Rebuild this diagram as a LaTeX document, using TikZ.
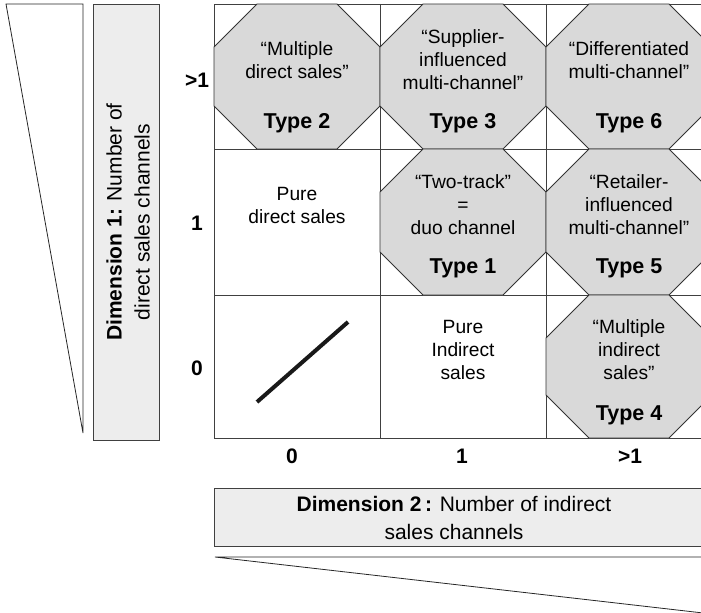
\documentclass[tikz,border=0pt]{standalone}
\usepackage{fontspec}
\setmainfont{Liberation Sans}
\newcommand\myoct[4]{% xa xb ya yb
  \draw[oct] (#1+43,#3) -- (#2-43,#3) -- (#2,#3+43) -- (#2,#4-43) -- (#2-43,#4)
    -- (#1+43,#4) -- (#1,#4-43) -- (#1,#3+43) -- cycle;}
\begin{document}
\begin{tikzpicture}[x=1bp,y=-1bp]
\tikzset{
 grid/.style={draw=black!75, line width=0.9bp},
 oct/.style={draw=black!80, fill=black!15, line width=0.9bp},
 txt/.style={align=center, font=\fontsize{19.2bp}{23bp}\selectfont, inner sep=0},
 typ/.style={font=\fontsize{21.5bp}{24bp}\selectfont\bfseries, inner sep=0},
 axl/.style={font=\fontsize{21bp}{24bp}\selectfont\bfseries, inner sep=0},
 dimbox/.style={draw=black!75, fill=black!7, line width=0.9bp},
 dimtxt/.style={align=center, font=\fontsize{21bp}{28bp}\selectfont, inner sep=0},
 wedge/.style={draw=black!85, line width=0.8bp},
}
\useasboundingbox (0,0) rectangle (701,613);
\clip (0,0) rectangle (701,613);

% left wedge and dimension 1 box
\draw[wedge] (6,4) -- (83,4) -- (83,433) -- cycle;
\draw[dimbox] (93,4) rectangle (159,440);
\node[dimtxt, rotate=90] (dim1) at (128,222) {\textbf{Dimension 1:} Number of\\direct sales channels};

% grid
\draw[grid] (214,4) rectangle (712,438);
\draw[grid] (380,4) -- (380,438) (546,4) -- (546,438);
\draw[grid] (214,149) -- (712,149) (214,295) -- (712,295);

% octagons
\myoct{214}{380}{4}{149}
\myoct{380}{546}{4}{149}
\myoct{546}{712}{4}{149}
\myoct{380}{546}{149}{295}
\myoct{546}{712}{149}{295}
\myoct{546}{712}{295}{438}

% cell texts
\node[txt] (t2) at (297,60) {“Multiple\\direct sales”};
\node[typ] (ty2) at (297,123) {Type 2};
\node[txt] (t3) at (463,60) {“Supplier-\\influenced\\multi-channel”};
\node[typ] (ty3) at (463,123) {Type 3};
\node[txt] (t6) at (629,60) {“Differentiated\\multi-channel”};
\node[typ] (ty6) at (629,123) {Type 6};

\node[txt] (pd) at (297,205) {Pure\\direct sales};
\node[txt] (t1) at (463,205) {“Two-track”\\=\\duo channel};
\node[typ] (ty1) at (463,268) {Type 1};
\node[txt] (t5) at (629,205) {“Retailer-\\influenced\\multi-channel”};
\node[typ] (ty5) at (629,268) {Type 5};

\node[txt] (pi) at (463,350) {Pure\\Indirect\\sales};
\node[txt] (t4) at (629,350) {“Multiple\\indirect\\sales”};
\node[typ] (ty4) at (629,415) {Type 4};

\coordinate (slA) at (257,402);
\coordinate (slB) at (348,322);
\draw[line width=4bp, black!90] (slA) -- (slB);

% axis labels
\node[axl] (r2) at (197,80) {>1};
\node[axl] (r1) at (197,223) {1};
\node[axl] (r0) at (197,368) {0};
\node[axl] (c0) at (292,456) {0};
\node[axl] (c1) at (462,456) {1};
\node[axl] (c2) at (630,456) {>1};

% dimension 2 box and wedge
\draw[dimbox] (214,488) rectangle (712,546);
\node[dimtxt] (dim2) at (454,518) {\textbf{Dimension 2\,:} Number of indirect\\sales channels};
\draw[wedge] (215,557) -- (712,557) -- (712,614) -- cycle;
\end{tikzpicture}
\end{document}
